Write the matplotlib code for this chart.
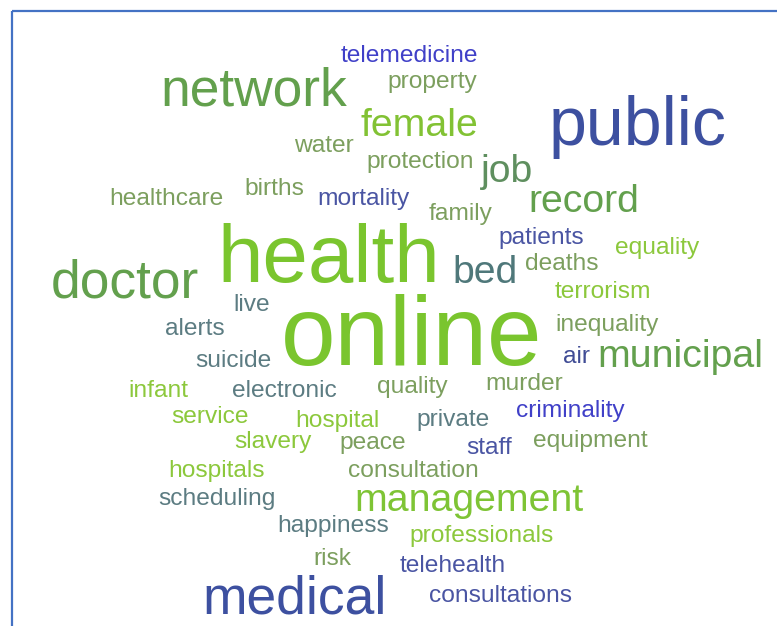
import matplotlib.pyplot as plt
from matplotlib.patches import Rectangle

plt.rcParams["font.family"] = ["Liberation Sans", "DejaVu Sans"]

# words and their relative weight (1 = smallest)
words = [
    "telemedicine", "property", "network", "public", "female", "water",
    "protection", "job", "healthcare", "births", "mortality", "record",
    "family", "patients", "equality", "health", "doctor", "bed", "deaths",
    "live", "terrorism", "alerts", "online", "inequality", "suicide", "air",
    "municipal", "infant", "electronic", "quality", "murder", "service",
    "hospital", "private", "criminality", "slavery", "peace", "staff",
    "equipment", "hospitals", "consultation", "scheduling", "management",
    "happiness", "professionals", "risk", "telehealth", "medical",
    "consultations",
]
weights = [
    1, 1, 2.18, 2.78, 1.6, 1,
    1, 1.6, 1, 1, 1, 1.6,
    1, 1, 1, 3.33, 2.18, 1.6, 1,
    1, 1, 1, 4.0, 1, 1, 1,
    1.6, 1, 1, 1, 1, 1,
    1, 1, 1, 1, 1, 1,
    1, 1, 1, 1, 1.6,
    1, 1, 1, 1, 2.18,
    1,
]

# layout: word centre x and baseline y, in pixels of the picture
pos_x = [
    409, 432, 254, 638, 419, 324,
    420, 507, 166, 274, 363, 584,
    461, 541, 657, 329, 125, 485, 562,
    252, 603, 195, 412, 607, 233, 576,
    680, 158, 284, 412, 524, 210,
    337, 453, 570, 273, 373, 489,
    590, 217, 413, 217, 469,
    333, 482, 332, 453, 295,
    501,
]
pos_y = [
    62, 88, 106, 145, 136, 152,
    168, 182, 205, 195, 205, 212,
    220, 244, 254, 282, 297, 283, 270,
    311, 298, 335, 365, 331, 367, 363,
    367, 397, 397, 393, 390, 423,
    427, 426, 417, 448, 449, 454,
    447, 477, 477, 505, 511,
    532, 542, 565, 572, 613,
    602,
]

lime = "#7ac52e"
green = "#63a04d"
olive = "#7c9f5e"
bright = "#8cc83c"
slate = "#5c7c82"
navy = "#3d50a0"
indigo = "#4a55a3"
violet = "#4040c8"
colors = [
    violet, olive, green, navy, "#82c234", olive,
    olive, "#5f8f5f", olive, olive, indigo, green,
    olive, indigo, bright, lime, green, "#4f787a", olive,
    slate, bright, slate, lime, olive, slate, "#404c95",
    green, bright, slate, olive, olive, bright,
    bright, slate, violet, bright, olive, indigo,
    olive, bright, olive, slate, "#7ec435",
    slate, bright, olive, indigo, navy,
    indigo,
]

base_px = 24.5
dpi = 100

fig = plt.figure(figsize=(7.77, 6.26), dpi=dpi)
ax = fig.add_axes([0, 0, 1, 1])
ax.set_xlim(0, 777)
ax.set_ylim(626, 0)
ax.axis("off")

# blue frame, running off the right and bottom edges
ax.add_patch(Rectangle((12, 11), 800, 700, fill=False, edgecolor="#4472c4", linewidth=1.6))

for w, wt, x, y, c in zip(words, weights, pos_x, pos_y, colors):
    ax.text(x, y, w, fontsize=base_px * wt * 72 / dpi, color=c,
            ha="center", va="baseline")

fig.savefig("out.png", dpi=dpi)
